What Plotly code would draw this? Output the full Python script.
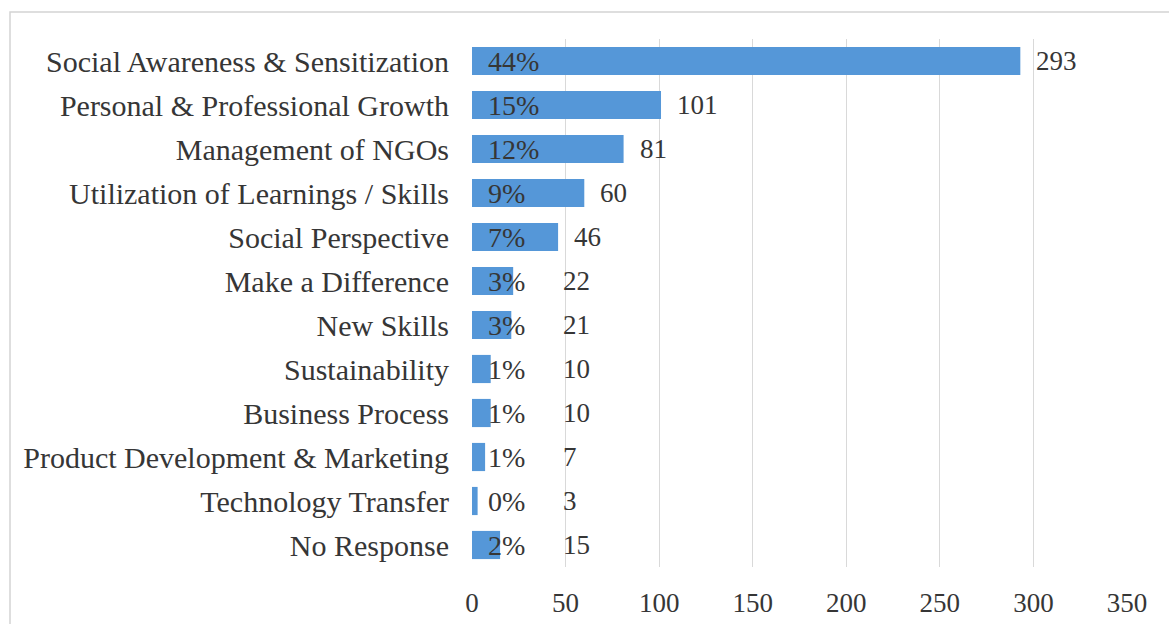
import plotly.graph_objects as go

# Survey responses by theme
categories = [
    "Social Awareness & Sensitization",
    "Personal & Professional Growth",
    "Management of NGOs",
    "Utilization of Learnings / Skills",
    "Social Perspective",
    "Make a Difference",
    "New Skills",
    "Sustainability",
    "Business Process",
    "Product Development & Marketing",
    "Technology Transfer",
    "No Response",
]
counts = [293, 101, 81, 60, 46, 22, 21, 10, 10, 7, 3, 15]
x_ticks = [0, 50, 100, 150, 200, 250, 300, 350]

total = sum(counts)
percents = [f"{round(100 * c / total)}%" for c in counts]

FONT = "'Times New Roman', 'Liberation Serif', serif"
TEXT = "#363636"
BAR = "#5597d8"

W, H = 1169, 624
ML, MR, MT, MB = 472, 42, 39, 57
PW, PH = W - ML - MR, H - MT - MB

fig = go.Figure(
    go.Bar(
        x=counts,
        y=categories,
        orientation="h",
        marker=dict(color=BAR, line=dict(width=0)),
        hoverinfo="x+y",
    )
)

annotations = []
for cat, c, p in zip(categories, counts, percents):
    # share of responses, near the bar base
    annotations.append(dict(
        x=0, y=cat, xref="x", yref="y", text=p, showarrow=False,
        xanchor="left", xshift=14, font=dict(family=FONT, size=28, color=TEXT),
    ))
    # response count, past the bar end (kept clear of the share label)
    annotations.append(dict(
        x=max(c, 40), y=cat, xref="x", yref="y", text=str(c), showarrow=False,
        xanchor="left", xshift=14, font=dict(family=FONT, size=27, color=TEXT),
    ))

# light frame around the chart area
frame = dict(
    type="rect", xref="paper", yref="paper",
    x0=(10 - ML) / PW, x1=(W + 20 - ML) / PW,
    y0=-(H + 20 - MT - PH) / PH, y1=(H - 12 - MB) / PH,
    line=dict(color="#d4d4d4", width=1.5), fillcolor="rgba(0,0,0,0)", layer="below",
)

fig.update_layout(
    width=W, height=H,
    margin=dict(l=ML, r=MR, t=MT, b=MB, autoexpand=False),
    paper_bgcolor="white", plot_bgcolor="white",
    bargap=0.36,
    showlegend=False,
    font=dict(family=FONT, size=27, color=TEXT),
    annotations=annotations,
    shapes=[frame],
    xaxis=dict(
        range=[0, 350], tickvals=x_ticks, showgrid=True, gridcolor="#d9d9d9",
        gridwidth=1, zeroline=False, showline=False, ticks="", automargin=False,
        ticklabelstandoff=17, tickfont=dict(family=FONT, size=27, color=TEXT),
    ),
    yaxis=dict(
        autorange="reversed", showgrid=False, zeroline=False, showline=False,
        ticks="", automargin=False, ticklabelstandoff=22,
        tickfont=dict(family=FONT, size=30, color=TEXT),
    ),
)

fig.write_html("out.html")
